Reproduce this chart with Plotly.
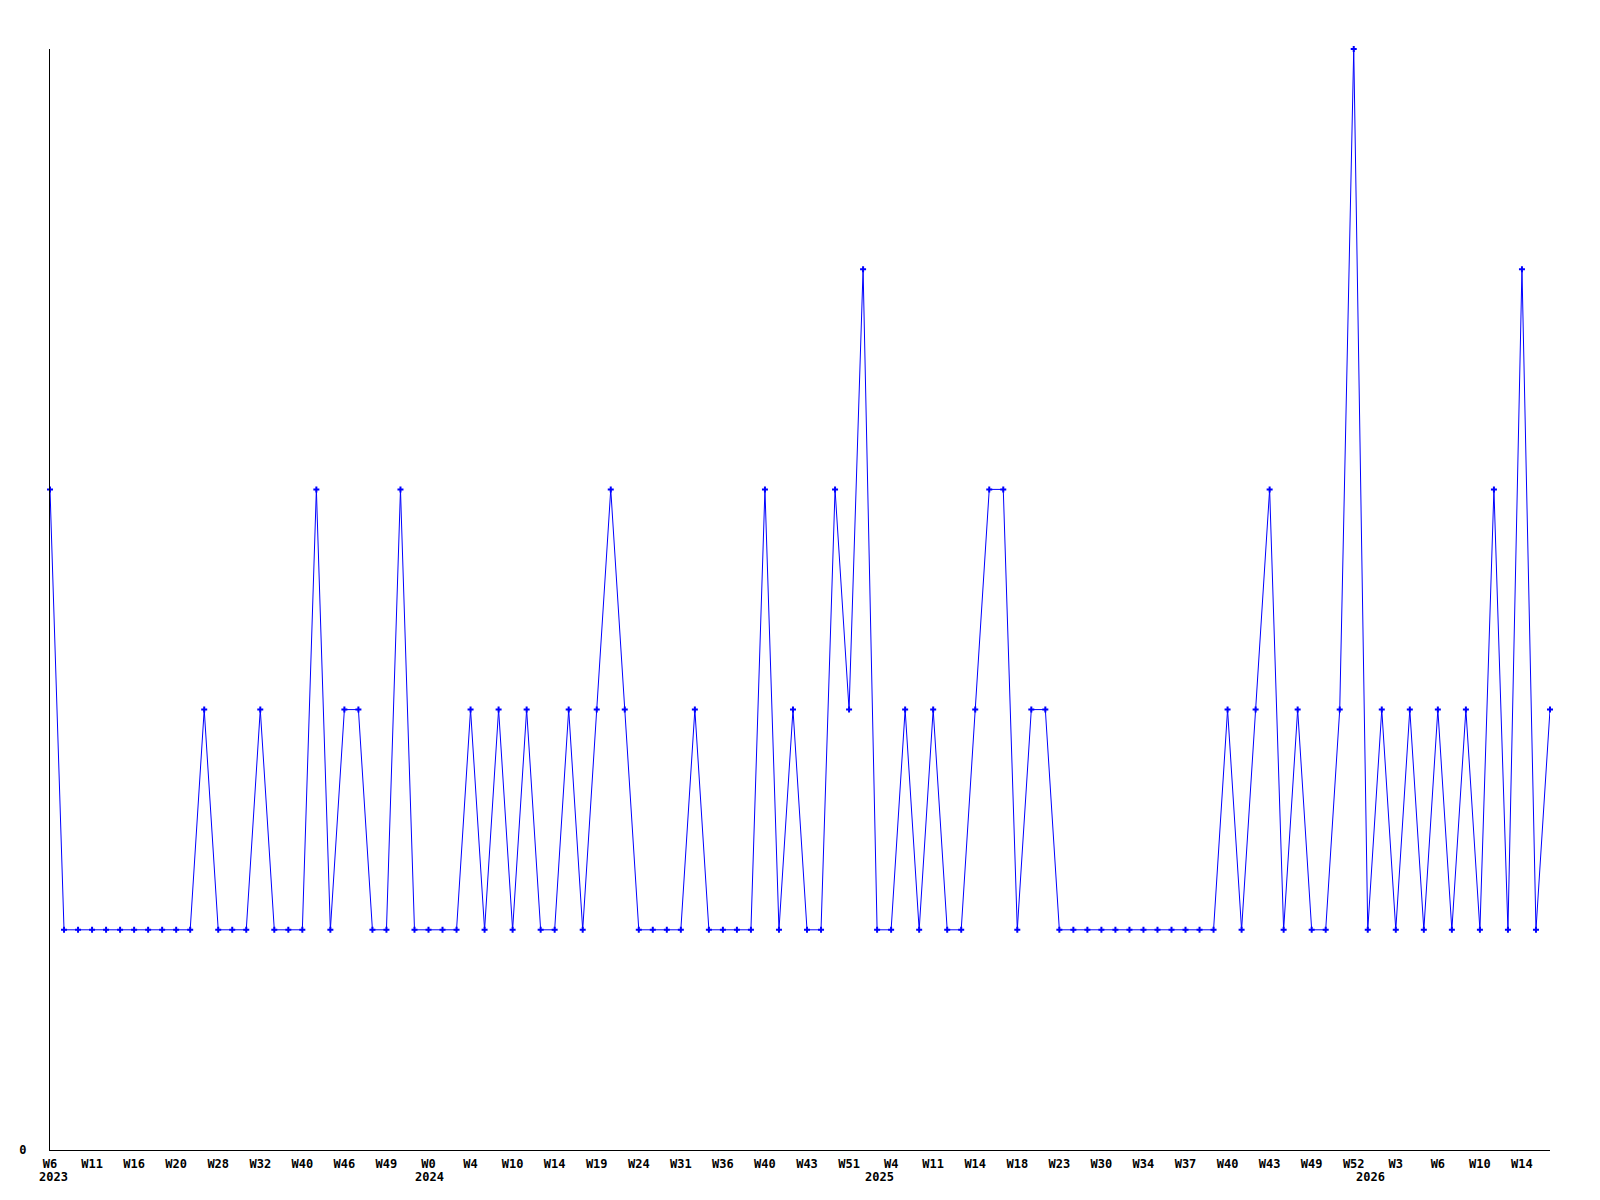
import plotly.graph_objects as go

values = [3, 1, 1, 1, 1, 1, 1, 1, 1, 1, 1, 2, 1, 1, 1, 2, 1, 1, 1, 3,
          1, 2, 2, 1, 1, 3, 1, 1, 1, 1, 2, 1, 2, 1, 2, 1, 1, 2, 1, 2,
          3, 2, 1, 1, 1, 1, 2, 1, 1, 1, 1, 3, 1, 2, 1, 1, 3, 2, 4, 1,
          1, 2, 1, 2, 1, 1, 2, 3, 3, 1, 2, 2, 1, 1, 1, 1, 1, 1, 1, 1,
          1, 1, 1, 1, 2, 1, 2, 3, 1, 2, 1, 1, 2, 5, 1, 2, 1, 2, 1, 2,
          1, 2, 1, 3, 1, 4, 1, 2]

tick_labels = ["W6", "W11", "W16", "W20", "W28", "W32", "W40", "W46", "W49",
               "W0", "W4", "W10", "W14", "W19", "W24", "W31", "W36", "W40",
               "W43", "W51", "W4", "W11", "W14", "W18", "W23", "W30", "W34",
               "W37", "W40", "W43", "W49", "W52", "W3", "W6", "W10", "W14"]
tick_step = 3

year_labels = ["2023", "2024", "2025", "2026"]
year_x = [0.25, 27.1, 59.2, 94.2]

x = list(range(len(values)))
tickvals = [i * tick_step for i in range(len(tick_labels))]
ticktext = ["<b>" + t + "</b>" for t in tick_labels]

fig = go.Figure()
fig.add_trace(go.Scatter(
    x=x, y=values, mode="lines+markers",
    line=dict(color="#0000FF", width=1),
    marker=dict(symbol="cross", size=5, color="#0000FF", line=dict(width=0)),
    cliponaxis=False, hoverinfo="skip", showlegend=False,
))

font = dict(family="DejaVu Sans Mono, Liberation Mono, monospace", size=12, color="#000000")

for lbl, xp in zip(year_labels, year_x):
    fig.add_annotation(x=xp, xref="x", y=0, yref="paper", text="<b>" + lbl + "</b>",
                       showarrow=False, xanchor="center", yanchor="middle",
                       yshift=-27, font=font)

fig.update_layout(
    width=1584, height=1184,
    margin=dict(l=42, r=42, t=41, b=42),
    paper_bgcolor="white", plot_bgcolor="white",
    font=font,
    xaxis=dict(
        range=[0, len(values) - 1], tickmode="array", tickvals=tickvals, ticktext=ticktext,
        showgrid=False, zeroline=False, showline=True, linecolor="#000000", linewidth=1,
        ticks="outside", ticklen=3, tickcolor="rgba(0,0,0,0)", tickfont=font,
        automargin=False,
    ),
    yaxis=dict(
        range=[0, 5], tickmode="array", tickvals=[0], ticktext=["<b>0</b>"],
        showgrid=False, zeroline=False, showline=True, linecolor="#000000", linewidth=1,
        ticks="outside", ticklen=20, tickcolor="rgba(0,0,0,0)", tickfont=font,
        automargin=False,
    ),
)

fig.write_html("out.html")
